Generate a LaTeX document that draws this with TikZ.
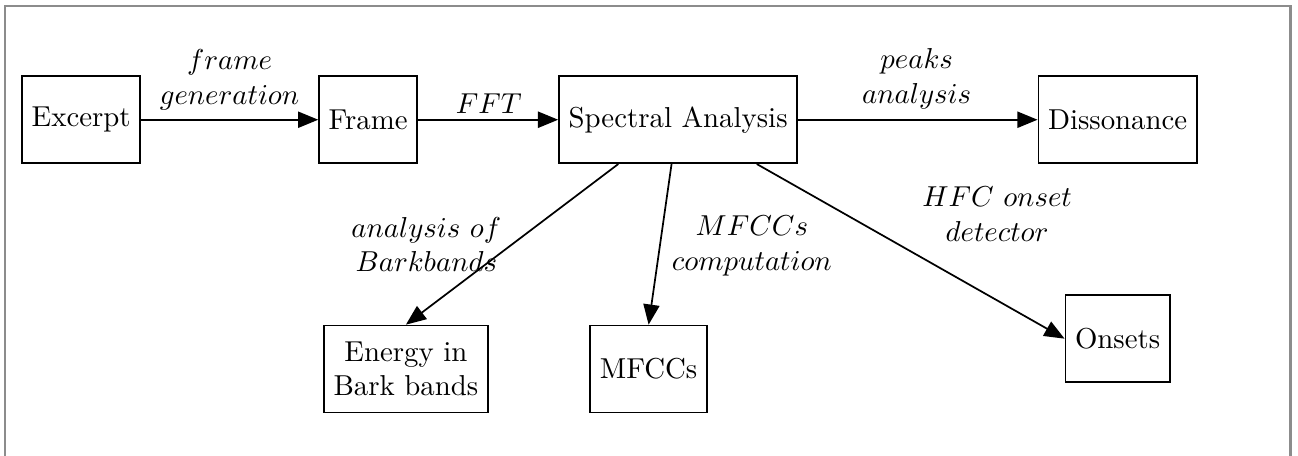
\documentclass[tikz,border=0pt]{standalone}
\usepackage{amsmath}
\usetikzlibrary{arrows.meta}

\begin{document}
\begin{tikzpicture}[box/.style={draw, line width=0.6pt, minimum height=1.06cm, align=center},
   flow/.style={-{Triangle[length=7pt,width=5.6pt]}, line width=0.6pt},
   lbl/.style={align=center}]
   \useasboundingbox (0,0) rectangle (15.83,-5.56);
   \draw[black!45, line width=0.8pt] (0.06,-0.07) rectangle (15.74,-5.8);

   \node[box] (excerpt) at (0.99,-1.46) {Excerpt};
   \node[box] (frame) at (4.49,-1.46) {Frame};
   \node[box] (spec) at (8.27,-1.46) {Spectral Analysis};
   \node[box] (diss) at (13.63,-1.46) {Dissonance};
   \node[box] (bark) at (4.95,-4.50) {Energy in\\Bark bands};
   \node[box] (mfcc) at (7.91,-4.50) {MFCCs};
   \node[box] (onsets) at (13.63,-4.13) {Onsets};

   \draw[flow] (excerpt) -- (frame);
   \draw[flow] (frame) -- (spec);
   \draw[flow] (spec) -- (diss);
   \draw[flow] ([xshift=-0.73cm]spec.south) -- (bark.north);
   \draw[flow] ([xshift=-0.08cm]spec.south) -- (mfcc.north);
   \draw[flow] ([xshift=0.96cm]spec.south) -- (onsets.west);

   \node[lbl] (lgen) at (2.80,-0.97) {$frame$\\$generation$};
   \node[lbl] (lfft) at (5.96,-1.26) {$FFT$};
   \node[lbl] (lpeak) at (11.18,-0.96) {$peaks$\\$analysis$};
   \node[lbl] (lbark) at (5.20,-2.98) {$analysis\ of$\\$Barkbands$};
   \node[lbl] (lmfcc) at (9.17,-3.00) {$MFCCs$\\$computation$};
   \node[lbl] (lhfc) at (12.16,-2.61) {$HFC\ onset$\\$detector$};
\end{tikzpicture}
\end{document}
